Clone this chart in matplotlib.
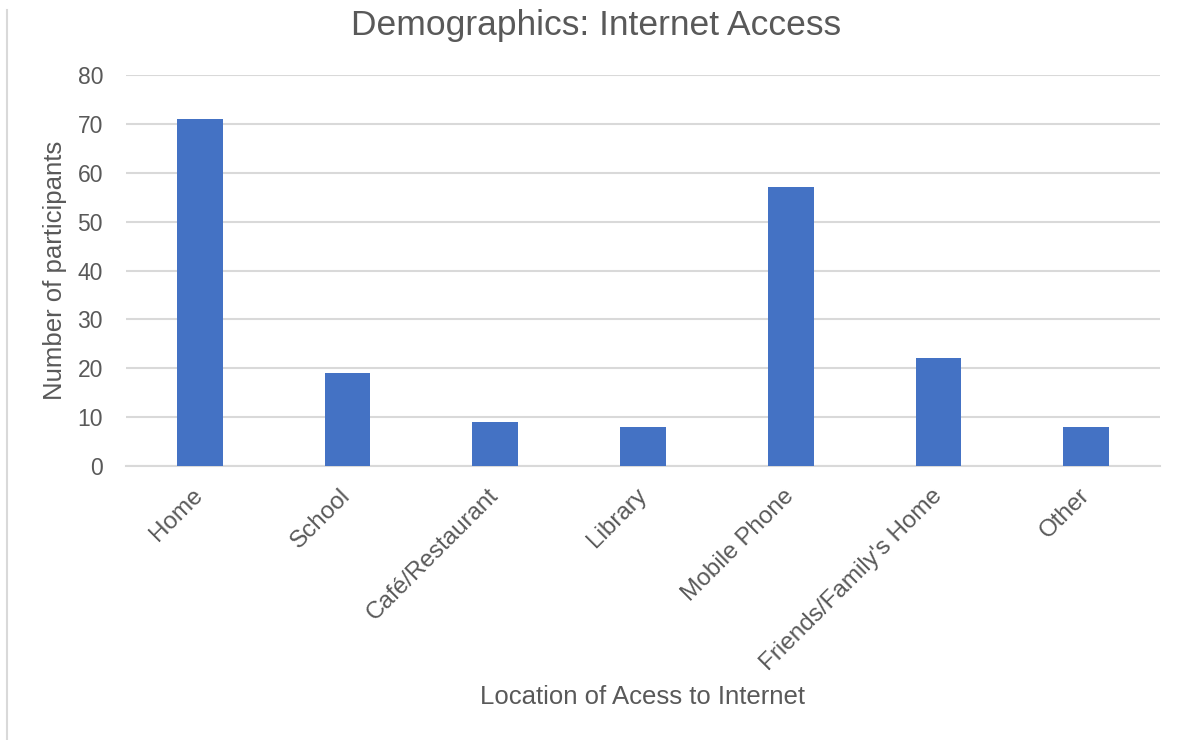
import matplotlib.pyplot as plt
import matplotlib.lines as mlines

plt.rcParams['font.family'] = ['Liberation Sans', 'DejaVu Sans']

locations = ['Home', 'School', 'Café/Restaurant', 'Library', 'Mobile Phone',
             "Friends/Family's Home", 'Other']
participants = [71, 19, 9, 8, 57, 22, 8]

text_color = '#595959'
grid_color = '#d9d9d9'
bar_color = '#4472c4'

fig = plt.figure(figsize=(11.79, 7.4), dpi=100)
ax = fig.add_axes([126 / 1179, 1 - 466 / 740, (1160 - 126) / 1179, (466 - 75) / 740])

x = range(len(locations))
ax.bar(x, participants, width=0.31, color=bar_color, zorder=3)

ax.set_xlim(-0.5, len(locations) - 0.5)
ax.set_ylim(0, 80)
ax.set_yticks(range(0, 81, 10))
ax.yaxis.grid(True, color=grid_color, linewidth=1.5, zorder=0)
for s in ['top', 'right', 'left']:
    ax.spines[s].set_visible(False)
ax.spines['bottom'].set_color(grid_color)
ax.spines['bottom'].set_linewidth(1.5)
ax.tick_params(axis='both', length=0, colors=text_color)
ax.tick_params(axis='y', labelsize=16.5, pad=16.5)

ax.set_xticks(list(x))
ax.set_xticklabels(locations, rotation=45, ha='right', va='center',
                   rotation_mode='anchor', fontsize=17.5)
ax.tick_params(axis='x', pad=19)

ax.set_ylabel('Number of participants', fontsize=18.5, color=text_color, va='center')
ax.yaxis.set_label_coords(-0.0687, 0.5)
ax.set_xlabel('Location of Acess to Internet', fontsize=18.5, color=text_color, va='center')
ax.xaxis.set_label_coords(0.5, -0.591)

fig.text(596 / 1179, 1 - 35 / 740, 'Demographics: Internet Access', fontsize=25.5,
         color=text_color, ha='center', va='baseline')

# thin frame line on the left edge
fig.add_artist(mlines.Line2D([7.5 / 1179, 7.5 / 1179], [0, 1 - 10 / 740],
                             color=grid_color, linewidth=1.5))

fig.savefig('out.png', dpi=100)
